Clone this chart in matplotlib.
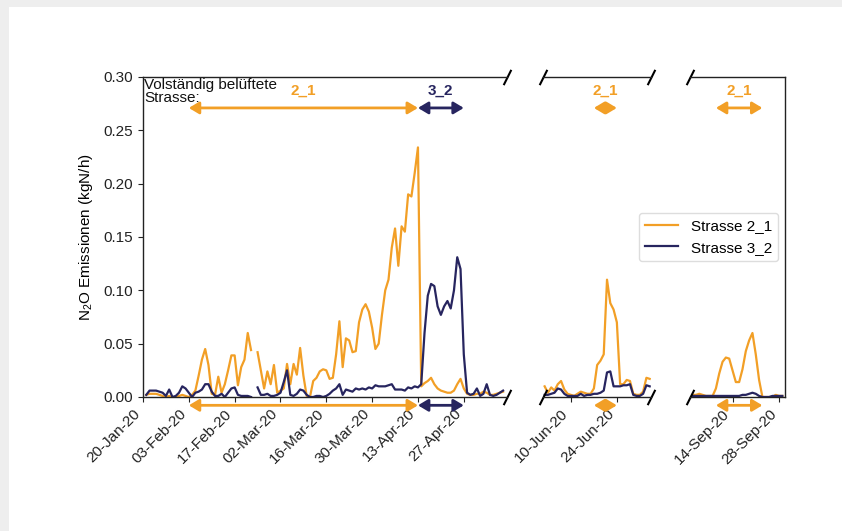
import numpy as np
import pandas as pd
import matplotlib
matplotlib.use("Agg")
import matplotlib.pyplot as plt
import matplotlib.dates as mdates
from matplotlib.patches import Rectangle
from matplotlib.lines import Line2D

plt.rcParams['font.family'] = ['Liberation Sans', 'DejaVu Sans']
plt.rcParams['mathtext.fontset'] = 'custom'
plt.rcParams['mathtext.rm'] = 'Liberation Sans'
plt.rcParams['mathtext.it'] = 'Liberation Sans:italic'

nan = np.nan

# daily N2O emissions (kgN/h), spring campaign from 21-Jan-20
spring_start = '2020-01-21'
spring_2_1 = [0.002, 0.003, 0.003, 0.003, 0.002, 0.001, 0.000, 0.001, 0.000, 0.000,
              0.001, 0.002, 0.001, 0.000, 0.002, 0.006, 0.020, 0.035, 0.045, 0.030,
              0.003, 0.002, 0.019, 0.004, 0.012, 0.025, 0.039, 0.039, 0.011, 0.028,
              0.035, 0.060, 0.044, nan, 0.042, 0.025, 0.008, 0.024, 0.012, 0.030,
              0.004, 0.006, 0.008, 0.031, 0.012, 0.031, 0.021, 0.046, 0.020, 0.001,
              0.000, 0.015, 0.018, 0.024, 0.026, 0.025, 0.017, 0.018, 0.040, 0.071,
              0.028, 0.055, 0.053, 0.042, 0.043, 0.070, 0.082, 0.087, 0.080, 0.065,
              0.045, 0.050, 0.077, 0.100, 0.110, 0.140, 0.158, 0.123, 0.160, 0.155,
              0.190, 0.188, 0.210, 0.234, 0.010, 0.013, 0.015, 0.018, 0.012, 0.008,
              0.006, 0.005, 0.004, 0.004, 0.006, 0.012, 0.017, 0.008, 0.003, 0.002,
              0.002, 0.003, 0.003, 0.005, 0.004, 0.002, 0.002, 0.003, 0.004, 0.005]
spring_3_2 = [0.002, 0.006, 0.006, 0.006, 0.005, 0.004, 0.001, 0.007, 0.000, 0.001,
              0.004, 0.010, 0.008, 0.004, 0.000, 0.004, 0.005, 0.007, 0.012, 0.012,
              0.005, 0.001, 0.001, 0.003, 0.000, 0.004, 0.008, 0.009, 0.002, 0.001,
              0.001, 0.001, 0.000, nan, 0.009, 0.002, 0.002, 0.003, 0.001, 0.001,
              0.002, 0.004, 0.014, 0.025, 0.002, 0.001, 0.003, 0.007, 0.006, 0.002,
              0.000, 0.000, 0.001, 0.001, 0.000, 0.001, 0.003, 0.006, 0.008, 0.012,
              0.002, 0.007, 0.006, 0.005, 0.008, 0.007, 0.008, 0.007, 0.009, 0.008,
              0.011, 0.010, 0.010, 0.010, 0.011, 0.012, 0.007, 0.007, 0.007, 0.006,
              0.009, 0.008, 0.010, 0.009, 0.012, 0.060, 0.095, 0.106, 0.104, 0.085,
              0.077, 0.085, 0.090, 0.083, 0.100, 0.131, 0.120, 0.040, 0.004, 0.002,
              0.003, 0.008, 0.001, 0.003, 0.012, 0.002, 0.001, 0.002, 0.004, 0.006]

summer_start = '2020-06-02'
summer_2_1 = [0.010, 0.004, 0.009, 0.006, 0.012, 0.015, 0.007, 0.003, 0.002, 0.001,
              0.003, 0.005, 0.004, 0.003, 0.003, 0.008, 0.030, 0.034, 0.040, 0.110,
              0.088, 0.082, 0.070, 0.012, 0.012, 0.016, 0.015, 0.003, 0.002, 0.002,
              0.005, 0.018, 0.017]
summer_3_2 = [0.002, 0.002, 0.003, 0.004, 0.008, 0.007, 0.003, 0.001, 0.001, 0.001,
              0.001, 0.003, 0.001, 0.002, 0.002, 0.003, 0.003, 0.004, 0.006, 0.023,
              0.024, 0.010, 0.010, 0.010, 0.011, 0.011, 0.012, 0.002, 0.001, 0.001,
              0.003, 0.011, 0.010]

autumn_start = '2020-09-02'
autumn_2_1 = [0.002, 0.002, 0.003, 0.002, 0.001, 0.001, 0.001, 0.008, 0.022, 0.033,
              0.037, 0.036, 0.025, 0.014, 0.014, 0.026, 0.043, 0.053, 0.060, 0.040,
              0.016, 0.000, 0.000, 0.000, 0.000, 0.002, 0.001, 0.001]
autumn_3_2 = [0.001, 0.001, 0.001, 0.001, 0.001, 0.001, 0.001, 0.001, 0.001, 0.001,
              0.001, 0.001, 0.001, 0.001, 0.001, 0.002, 0.002, 0.003, 0.004, 0.003,
              0.001, 0.000, 0.000, 0.000, 0.001, 0.001, 0.001, 0.001]

ticks_spring = ['2020-01-20', '2020-02-03', '2020-02-17', '2020-03-02', '2020-03-16',
                '2020-03-30', '2020-04-13', '2020-04-27']
ticks_summer = ['2020-06-10', '2020-06-24']
ticks_autumn = ['2020-09-14', '2020-09-28']

# fully aerated lane per period: (panel, lane, start, end)
aeration = [(0, '2_1', '2020-02-03', '2020-04-13'),
            (0, '3_2', '2020-04-13', '2020-04-27'),
            (1, '2_1', '2020-06-17', '2020-06-24'),
            (2, '2_1', '2020-09-09', '2020-09-23')]

orange = '#f29f26'
navy = '#27255f'
lane_colours = {'2_1': orange, '3_2': navy}

W, H = 842, 531
fig = plt.figure(figsize=(W / 100, H / 100), dpi=100)
fig.patch.set_facecolor('#eeeeee')
fig.add_artist(Rectangle((9 / W, 0), 1, 1 - 7 / H, transform=fig.transFigure,
                         facecolor='white', edgecolor='none', zorder=-10))

bot = 1 - 397 / H
hgt = 320 / H
ax1 = fig.add_axes([143 / W, bot, 364 / W, hgt])
ax2 = fig.add_axes([543 / W, bot, 108 / W, hgt])
ax3 = fig.add_axes([690 / W, bot, 95 / W, hgt])
axes = [ax1, ax2, ax3]

series = [(spring_start, spring_2_1, spring_3_2, ticks_spring),
          (summer_start, summer_2_1, summer_3_2, ticks_summer),
          (autumn_start, autumn_2_1, autumn_3_2, ticks_autumn)]

day = pd.Timedelta(days=1)
xlims = [(pd.Timestamp('2020-01-20'), pd.Timestamp('2020-01-20') + 111.2 * day),
         (pd.Timestamp('2020-06-10') - 8.5 * day, pd.Timestamp('2020-06-24') + 10.4 * day),
         (pd.Timestamp('2020-09-14') - 12.8 * day, pd.Timestamp('2020-09-28') + 1.8 * day)]

for ax, (start, s21, s32, ticks), lim in zip(axes, series, xlims):
    dates = pd.date_range(start, periods=len(s21), freq='D')
    ax.plot(dates, s21, color=orange, lw=1.6, label='Strasse 2_1')
    ax.plot(dates, s32, color=navy, lw=1.6, label='Strasse 3_2')
    ax.set_xlim(lim)
    ax.set_ylim(0, 0.30)
    ax.set_xticks(pd.to_datetime(ticks))
    ax.xaxis.set_major_formatter(mdates.DateFormatter('%d-%b-%y'))
    for lbl in ax.get_xticklabels():
        lbl.set_rotation(45)
        lbl.set_ha('right')
        lbl.set_fontsize(11)
    for sp in ax.spines.values():
        sp.set_color('#222222')
        sp.set_linewidth(1.0)
    ax.tick_params(colors='#222222', labelsize=11)

ax1.spines['right'].set_visible(False)
ax2.spines['left'].set_visible(False)
ax2.spines['right'].set_visible(False)
ax3.spines['left'].set_visible(False)
ax2.tick_params(left=False, labelleft=False)
ax3.tick_params(left=False, labelleft=False)

ax1.set_yticks(np.arange(0, 0.31, 0.05))
ax1.yaxis.set_major_formatter(matplotlib.ticker.FormatStrFormatter('%.2f'))
ax1.set_ylabel('N$_2$O Emissionen (kgN/h)', fontsize=11, labelpad=6)

# break marks
brk = dict(marker=[(-1, -2), (1, 2)], markersize=11, linestyle='none',
           color='k', mec='k', mew=1.5, clip_on=False)
ax1.plot([1, 1], [0, 1], transform=ax1.transAxes, **brk)
ax2.plot([0, 0, 1, 1], [0, 1, 0, 1], transform=ax2.transAxes, **brk)
ax3.plot([0, 0], [0, 1], transform=ax3.transAxes, **brk)

ax1.text(0.004, 0.997, 'Volständig belüftete\nStrasse:', transform=ax1.transAxes,
         ha='left', va='top', fontsize=11, linespacing=0.95, color='#111111')

for panel, lane, a, b in aeration:
    ax = axes[panel]
    c = lane_colours[lane]
    t0, t1 = pd.Timestamp(a), pd.Timestamp(b)
    for y in (0.271, -0.0078):
        ax.annotate('', xy=(t1, y), xytext=(t0, y), annotation_clip=False,
                    arrowprops=dict(arrowstyle='<|-|>,head_length=0.5,head_width=0.3',
                                    color=c, lw=2, mutation_scale=12,
                                    shrinkA=0, shrinkB=0))
    ax.text(t0 + (t1 - t0) / 2, 0.287, lane, color=c, fontsize=11,
            fontweight='bold', ha='center', va='center')

handles = [Line2D([], [], color=orange, lw=1.6), Line2D([], [], color=navy, lw=1.6)]
fig.legend(handles, ['Strasse 2_1', 'Strasse 3_2'], loc='upper right',
           bbox_to_anchor=(778 / W, 1 - 213 / H), borderaxespad=0, fontsize=11,
           handlelength=2.2, edgecolor='#dddddd', framealpha=1)

fig.savefig('out.png', dpi=100, facecolor=fig.get_facecolor())
